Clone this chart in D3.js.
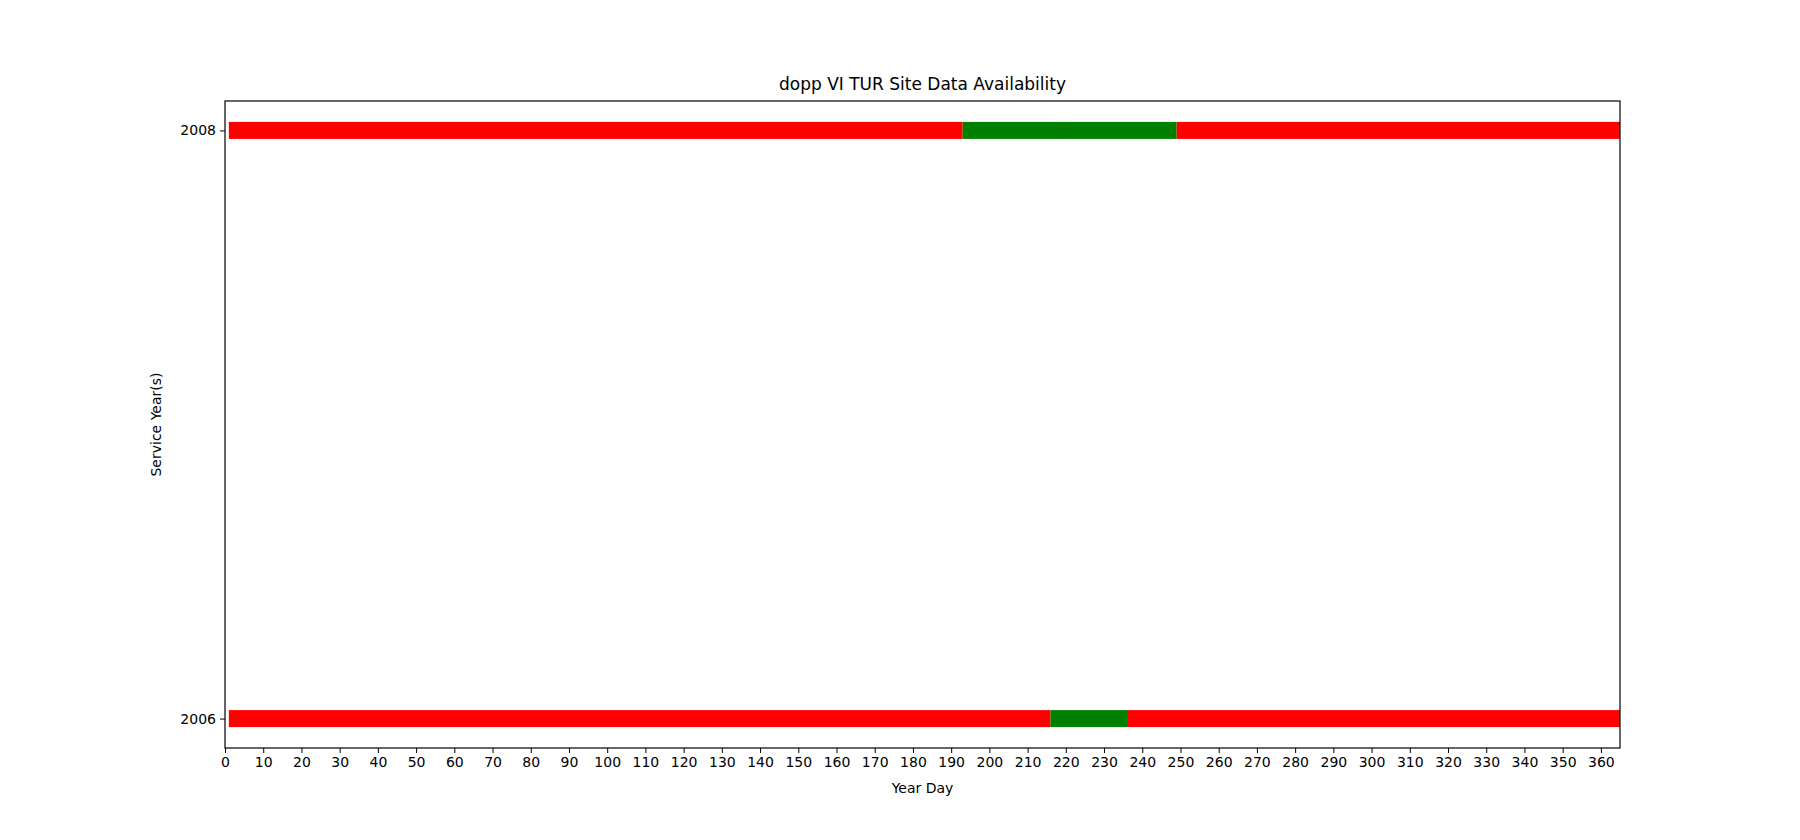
<!DOCTYPE html>
<html><head><meta charset="utf-8">
<script src="https://cdn.jsdelivr.net/npm/d3@7"></script>
<style>body{margin:0;background:#fff;} text{font-family:"DejaVu Sans",sans-serif;}</style>
</head><body>
<svg width="1800" height="840"></svg>
<script>
var years = [2008, 2006];
var segs2008 = [[1, 193, "red"], [193, 219, "green"], [219, 249, "green"], [249, 365, "red"]];
var segs2006 = [[1, 216, "red"], [216, 236, "green"], [236, 365, "red"]];
var xTicks = d3.range(0, 361, 10);

var svg = d3.select("svg"),
    plotL = 225, plotR = 1620, plotT = 101, plotB = 748;

var x = d3.scaleLinear().domain([0, 365]).range([plotL, plotR]);
var y = d3.scaleLinear().domain([2005.9, 2008.1]).range([plotB, plotT]);

var data = [];
segs2008.forEach(function(s) { data.push({year: 2008, a: s[0], b: s[1], c: s[2]}); });
segs2006.forEach(function(s) { data.push({year: 2006, a: s[0], b: s[1], c: s[2]}); });

svg.append("g").selectAll("rect").data(data).enter().append("rect")
  .attr("x", function(d) { return x(d.a); })
  .attr("width", function(d) { return x(d.b) - x(d.a); })
  .attr("y", function(d) { return y(d.year) - 8.5; })
  .attr("height", 17)
  .attr("fill", function(d) { return d.c; });

// divider line inside the 2008 green run
svg.append("line").attr("x1", x(219)).attr("x2", x(219))
  .attr("y1", y(2008) - 8.5).attr("y2", y(2008) + 8.5)
  .attr("stroke", "#1a6e1a").attr("stroke-width", 1);

var xa = svg.append("g").attr("transform", "translate(0," + plotB + ")")
  .call(d3.axisBottom(x).tickValues(xTicks).tickSize(5).tickPadding(4));
var ya = svg.append("g").attr("transform", "translate(" + plotL + ",0)")
  .call(d3.axisLeft(y).tickValues(years).tickFormat(d3.format("d")).tickSize(5).tickPadding(4));
[xa, ya].forEach(function(a) {
  a.select(".domain").remove();
  a.selectAll("text").style("font-size", "14px").attr("fill", "#000");
  a.selectAll("line").attr("stroke", "#000");
});

svg.append("rect").attr("x", plotL).attr("y", plotT)
  .attr("width", plotR - plotL).attr("height", plotB - plotT)
  .attr("fill", "none").attr("stroke", "#000").attr("stroke-width", 1.2);

svg.append("text").attr("x", (plotL + plotR) / 2).attr("y", 90)
  .attr("text-anchor", "middle").style("font-size", "17px").text("dopp VI TUR Site Data Availability");
svg.append("text").attr("x", (plotL + plotR) / 2).attr("y", 793)
  .attr("text-anchor", "middle").style("font-size", "14px").text("Year Day");
svg.append("text").attr("transform", "translate(161," + (plotT + plotB) / 2 + ") rotate(-90)")
  .attr("text-anchor", "middle").style("font-size", "14px").text("Service Year(s)");
</script>
</body></html>
